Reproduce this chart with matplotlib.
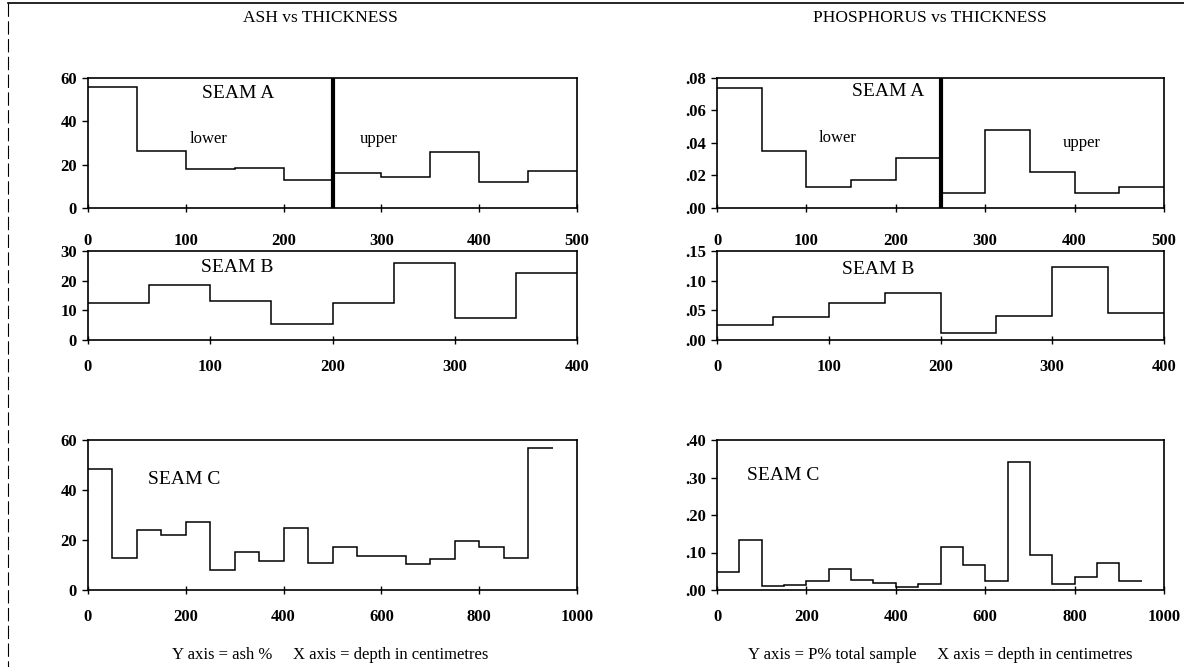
import numpy as np
import matplotlib
matplotlib.use("Agg")
import matplotlib.pyplot as plt
from matplotlib.ticker import FuncFormatter
from matplotlib.lines import Line2D

plt.rcParams["font.family"] = ["Liberation Serif", "DejaVu Serif"]

# ---------------------------------------------------------------------------
# data: one value per 50 cm sample interval
# ---------------------------------------------------------------------------
STEP = 50
ash_a = [56, 26.5, 18, 18.5, 13, 16, 14.5, 26, 12, 17]
ash_b = [12.5, 18.5, 13, 5.5, 12.5, 26, 7.5, 22.5]
ash_c = [48.5, 12.7, 24.2, 22.2, 27.1, 8.1, 15.1, 11.8, 24.7, 11.0,
         17.4, 13.5, 13.5, 10.5, 12.3, 19.6, 17.1, 13.0, 56.7]

p_a = [0.074, 0.035, 0.013, 0.017, 0.031, 0.009, 0.048, 0.022, 0.009, 0.013]
p_b = [0.025, 0.039, 0.062, 0.080, 0.012, 0.040, 0.123, 0.045]
p_c = [0.047, 0.133, 0.011, 0.013, 0.025, 0.056, 0.028, 0.018, 0.009, 0.016,
       0.115, 0.067, 0.025, 0.341, 0.093, 0.016, 0.034, 0.071, 0.025]

seam_a_split = 250  # lower / upper boundary

ash_ticks_a = [0, 20, 40, 60]
ash_ticks_b = [0, 10, 20, 30]
ash_ticks_c = [0, 20, 40, 60]
p_ticks_a = [0, 0.02, 0.04, 0.06, 0.08]
p_ticks_b = [0, 0.05, 0.10, 0.15]
p_ticks_c = [0, 0.10, 0.20, 0.30, 0.40]

W, H = 1184, 667
fig = plt.figure(figsize=(W / 100, H / 100), dpi=100)


def px_axes(x0, x1, y0, y1):
    return fig.add_axes([x0 / W, 1 - y1 / H, (x1 - x0) / W, (y1 - y0) / H])


def step_panel(ax, vals, xmax, yticks, xstep, fmt, xpad):
    edges = np.arange(len(vals) + 1) * STEP
    ax.stairs(vals, edges, baseline=None, color="black", lw=1.1)
    ax.set_xlim(0, xmax)
    ax.set_ylim(yticks[0], yticks[-1])
    ax.set_yticks(yticks)
    ax.set_xticks(np.arange(0, xmax + 1, xstep))
    ax.yaxis.set_major_formatter(FuncFormatter(fmt))
    ax.tick_params(axis="y", direction="out", length=4, width=1, pad=4, labelsize=12)
    ax.tick_params(axis="x", direction="inout", length=6, width=1, pad=xpad, labelsize=12)
    for lab in ax.get_xticklabels() + ax.get_yticklabels():
        lab.set_fontweight("bold")
    for s in ax.spines.values():
        s.set_linewidth(1.2)


ash_fmt = lambda v, _: f"{v:.0f}"
p_fmt = lambda v, _: f"{v:.2f}".lstrip("0")

# left column - ash
axA = px_axes(88, 577, 78, 208)
step_panel(axA, ash_a, 500, ash_ticks_a, 100, ash_fmt, 15)
axB = px_axes(88, 577, 251, 340)
step_panel(axB, ash_b, 400, ash_ticks_b, 100, ash_fmt, 11)
axC = px_axes(88, 577, 440, 590)
step_panel(axC, ash_c, 1000, ash_ticks_c, 200, ash_fmt, 11)

# right column - phosphorus
axPA = px_axes(717, 1164, 78, 208)
step_panel(axPA, p_a, 500, p_ticks_a, 100, p_fmt, 15)
axPB = px_axes(717, 1164, 251, 340)
step_panel(axPB, p_b, 400, p_ticks_b, 100, p_fmt, 11)
axPC = px_axes(717, 1164, 440, 590)
step_panel(axPC, p_c, 1000, p_ticks_c, 200, p_fmt, 11)

for ax in (axA, axPA):
    ax.axvline(seam_a_split, color="black", lw=3)

big, small = 14, 12
axA.text(154, 53, "SEAM A", ha="center", va="center", fontsize=big)
axA.text(123, 32, "lower", ha="center", va="center", fontsize=small)
axA.text(297, 32, "upper", ha="center", va="center", fontsize=small)
axPA.text(191, 0.072, "SEAM A", ha="center", va="center", fontsize=big)
axPA.text(135, 0.043, "lower", ha="center", va="center", fontsize=small)
axPA.text(408, 0.040, "upper", ha="center", va="center", fontsize=small)
axB.text(122, 24.6, "SEAM B", ha="center", va="center", fontsize=big)
axPB.text(144, 0.118, "SEAM B", ha="center", va="center", fontsize=big)
axC.text(197, 44, "SEAM C", ha="center", va="center", fontsize=big)
axPC.text(149, 0.305, "SEAM C", ha="center", va="center", fontsize=big)

fig.text(320 / W, 1 - 18 / H, "ASH vs THICKNESS", ha="center", va="center", fontsize=12.5)
fig.text(930 / W, 1 - 18 / H, "PHOSPHORUS vs THICKNESS", ha="center", va="center", fontsize=12.5)
fig.text(330 / W, 1 - 655 / H, "Y axis = ash %     X axis = depth in centimetres",
         ha="center", va="center", fontsize=12)
fig.text(940 / W, 1 - 655 / H, "Y axis = P% total sample     X axis = depth in centimetres",
         ha="center", va="center", fontsize=12)

# page frame from the scan
fig.add_artist(Line2D([8 / W, 1], [1 - 3 / H, 1 - 3 / H], color="black", lw=1.2))
fig.add_artist(Line2D([8 / W, 8 / W], [1 - 3 / H, 0], color="black", lw=0.8, ls=(0, (12, 4))))

fig.savefig("out.png", dpi=100, facecolor="white")
